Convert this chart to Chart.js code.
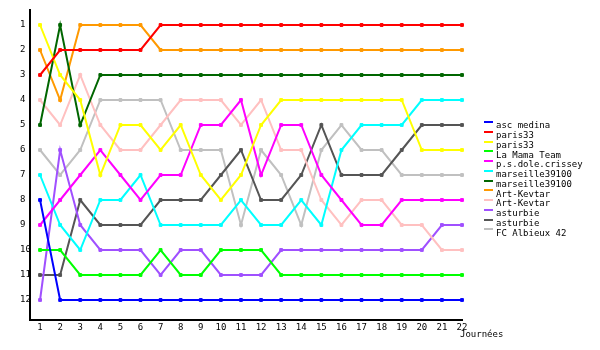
<!DOCTYPE html>
<html>
<head>
<meta charset="utf-8">
<script src="https://cdn.jsdelivr.net/npm/chart.js@4.4.1/dist/chart.umd.min.js"></script>
<style>
  html, body { margin: 0; padding: 0; background: #fff; }
  #wrap { width: 600px; height: 350px; }
</style>
</head>
<body>
<div id="wrap"><canvas id="rankChart"></canvas></div>
<script>
// journées 1..22
var days = [1, 2, 3, 4, 5, 6, 7, 8, 9, 10, 11, 12, 13, 14, 15, 16, 17, 18, 19, 20, 21, 22];
var rankTicks = [1, 2, 3, 4, 5, 6, 7, 8, 9, 10, 11, 12];

var teams = ['asc medina', 'paris33', 'paris33', 'La Mama Team', 'p.s.dole.crissey', 'marseille39100',
    'marseille39100', 'Art-Kevtar', 'Art-Kevtar', 'asturbie', 'asturbie', 'FC Albieux 42'];

var ascMedina   = [8, 12, 12, 12, 12, 12, 12, 12, 12, 12, 12, 12, 12, 12, 12, 12, 12, 12, 12, 12, 12, 12];
var paris33a    = [3, 2, 2, 2, 2, 2, 1, 1, 1, 1, 1, 1, 1, 1, 1, 1, 1, 1, 1, 1, 1, 1];
var paris33b    = [1, 3, 4, 7, 5, 5, 6, 5, 7, 8, 7, 5, 4, 4, 4, 4, 4, 4, 4, 6, 6, 6];
var laMama      = [10, 10, 11, 11, 11, 11, 10, 11, 11, 10, 10, 10, 11, 11, 11, 11, 11, 11, 11, 11, 11, 11];
var psDole      = [9, 8, 7, 6, 7, 8, 7, 7, 5, 5, 4, 7, 5, 5, 7, 8, 9, 9, 8, 8, 8, 8];
var marseilleA  = [7, 9, 10, 8, 8, 7, 9, 9, 9, 9, 8, 9, 9, 8, 9, 6, 5, 5, 5, 4, 4, 4];
var marseilleB  = [5, 1, 5, 3, 3, 3, 3, 3, 3, 3, 3, 3, 3, 3, 3, 3, 3, 3, 3, 3, 3, 3];
var artKevtarA  = [2, 4, 1, 1, 1, 1, 2, 2, 2, 2, 2, 2, 2, 2, 2, 2, 2, 2, 2, 2, 2, 2];
var artKevtarB  = [4, 5, 3, 5, 6, 6, 5, 4, 4, 4, 5, 4, 6, 6, 8, 9, 8, 8, 9, 9, 10, 10];
var asturbieA   = [12, 6, 9, 10, 10, 10, 11, 10, 10, 11, 11, 11, 10, 10, 10, 10, 10, 10, 10, 10, 9, 9];
var asturbieB   = [11, 11, 8, 9, 9, 9, 8, 8, 8, 7, 6, 8, 8, 7, 5, 7, 7, 7, 6, 5, 5, 5];
var fcAlbieux   = [6, 7, 6, 4, 4, 4, 4, 6, 6, 6, 9, 6, 7, 9, 6, 5, 6, 6, 7, 7, 7, 7];

var allSeries = [ascMedina, paris33a, paris33b, laMama, psDole, marseilleA,
    marseilleB, artKevtarA, artKevtarB, asturbieA, asturbieB, fcAlbieux];

var colors = ['#0000ff', '#ff0000', '#ffff00', '#00ff00', '#ff00ff', '#00ffff',
    '#006600', '#ff9900', '#ffc0c0', '#a050ff', '#555555', '#c0c0c0'];

var FONT = '"DejaVu Sans Mono", monospace';

// legend + axis title, drawn by hand like the original image
var sideLegend = {
    id: 'sideLegend',
    afterDraw: function (chart) {
        var ctx = chart.ctx;
        ctx.save();
        ctx.font = '9px ' + FONT;
        ctx.fillStyle = '#000';
        ctx.textBaseline = 'middle';
        ctx.textAlign = 'left';
        chart.data.datasets.forEach(function (ds, i) {
            var y = 122 + i * 9.75;
            ctx.fillStyle = ds.borderColor;
            ctx.fillRect(484, Math.round(y) - 1, 9, 2);
            ctx.fillStyle = '#000';
            ctx.fillText(ds.label, 496, y + 4);
        });
        ctx.fillText('Journées', 460, 335);
        ctx.restore();
    }
};

new Chart('rankChart', {
    type: 'line',
    data: {
        datasets: allSeries.map(function (vals, i) {
            return {
                label: teams[i],
                data: vals.map(function (v, j) { return { x: days[j], y: v }; }),
                borderColor: colors[i],
                backgroundColor: colors[i],
                borderWidth: 2,
                pointStyle: 'rect',
                pointRadius: 2,
                pointBorderWidth: 1,
                tension: 0,
                fill: false,
                clip: false
            };
        })
    },
    options: {
        responsive: true,
        maintainAspectRatio: false,
        animation: false,
        layout: { padding: { left: 20, top: 10, right: 138, bottom: 0 } },
        plugins: {
            legend: { display: false },
            tooltip: { enabled: false }
        },
        scales: {
            x: {
                type: 'linear',
                min: 0.5,
                max: 22,
                afterBuildTicks: function (s) { s.ticks = days.map(function (d) { return { value: d }; }); },
                afterFit: function (s) { s.height = 30; },
                grid: { display: false, drawTicks: false, tickLength: 0 },
                border: { display: true, color: '#000', width: 2 },
                ticks: { color: '#000', font: { family: FONT, size: 9 }, padding: 2, maxRotation: 0, autoSkip: false }
            },
            y: {
                type: 'linear',
                reverse: true,
                min: 0.4,
                max: 12.8,
                afterBuildTicks: function (s) { s.ticks = rankTicks.map(function (r) { return { value: r }; }); },
                afterFit: function (s) { s.width = 10; },
                grid: { display: false, drawTicks: false, tickLength: 0 },
                border: { display: true, color: '#000', width: 2 },
                ticks: { color: '#000', font: { family: FONT, size: 9 }, crossAlign: 'far', padding: 0 }
            }
        }
    },
    plugins: [sideLegend]
});
</script>
</body>
</html>
